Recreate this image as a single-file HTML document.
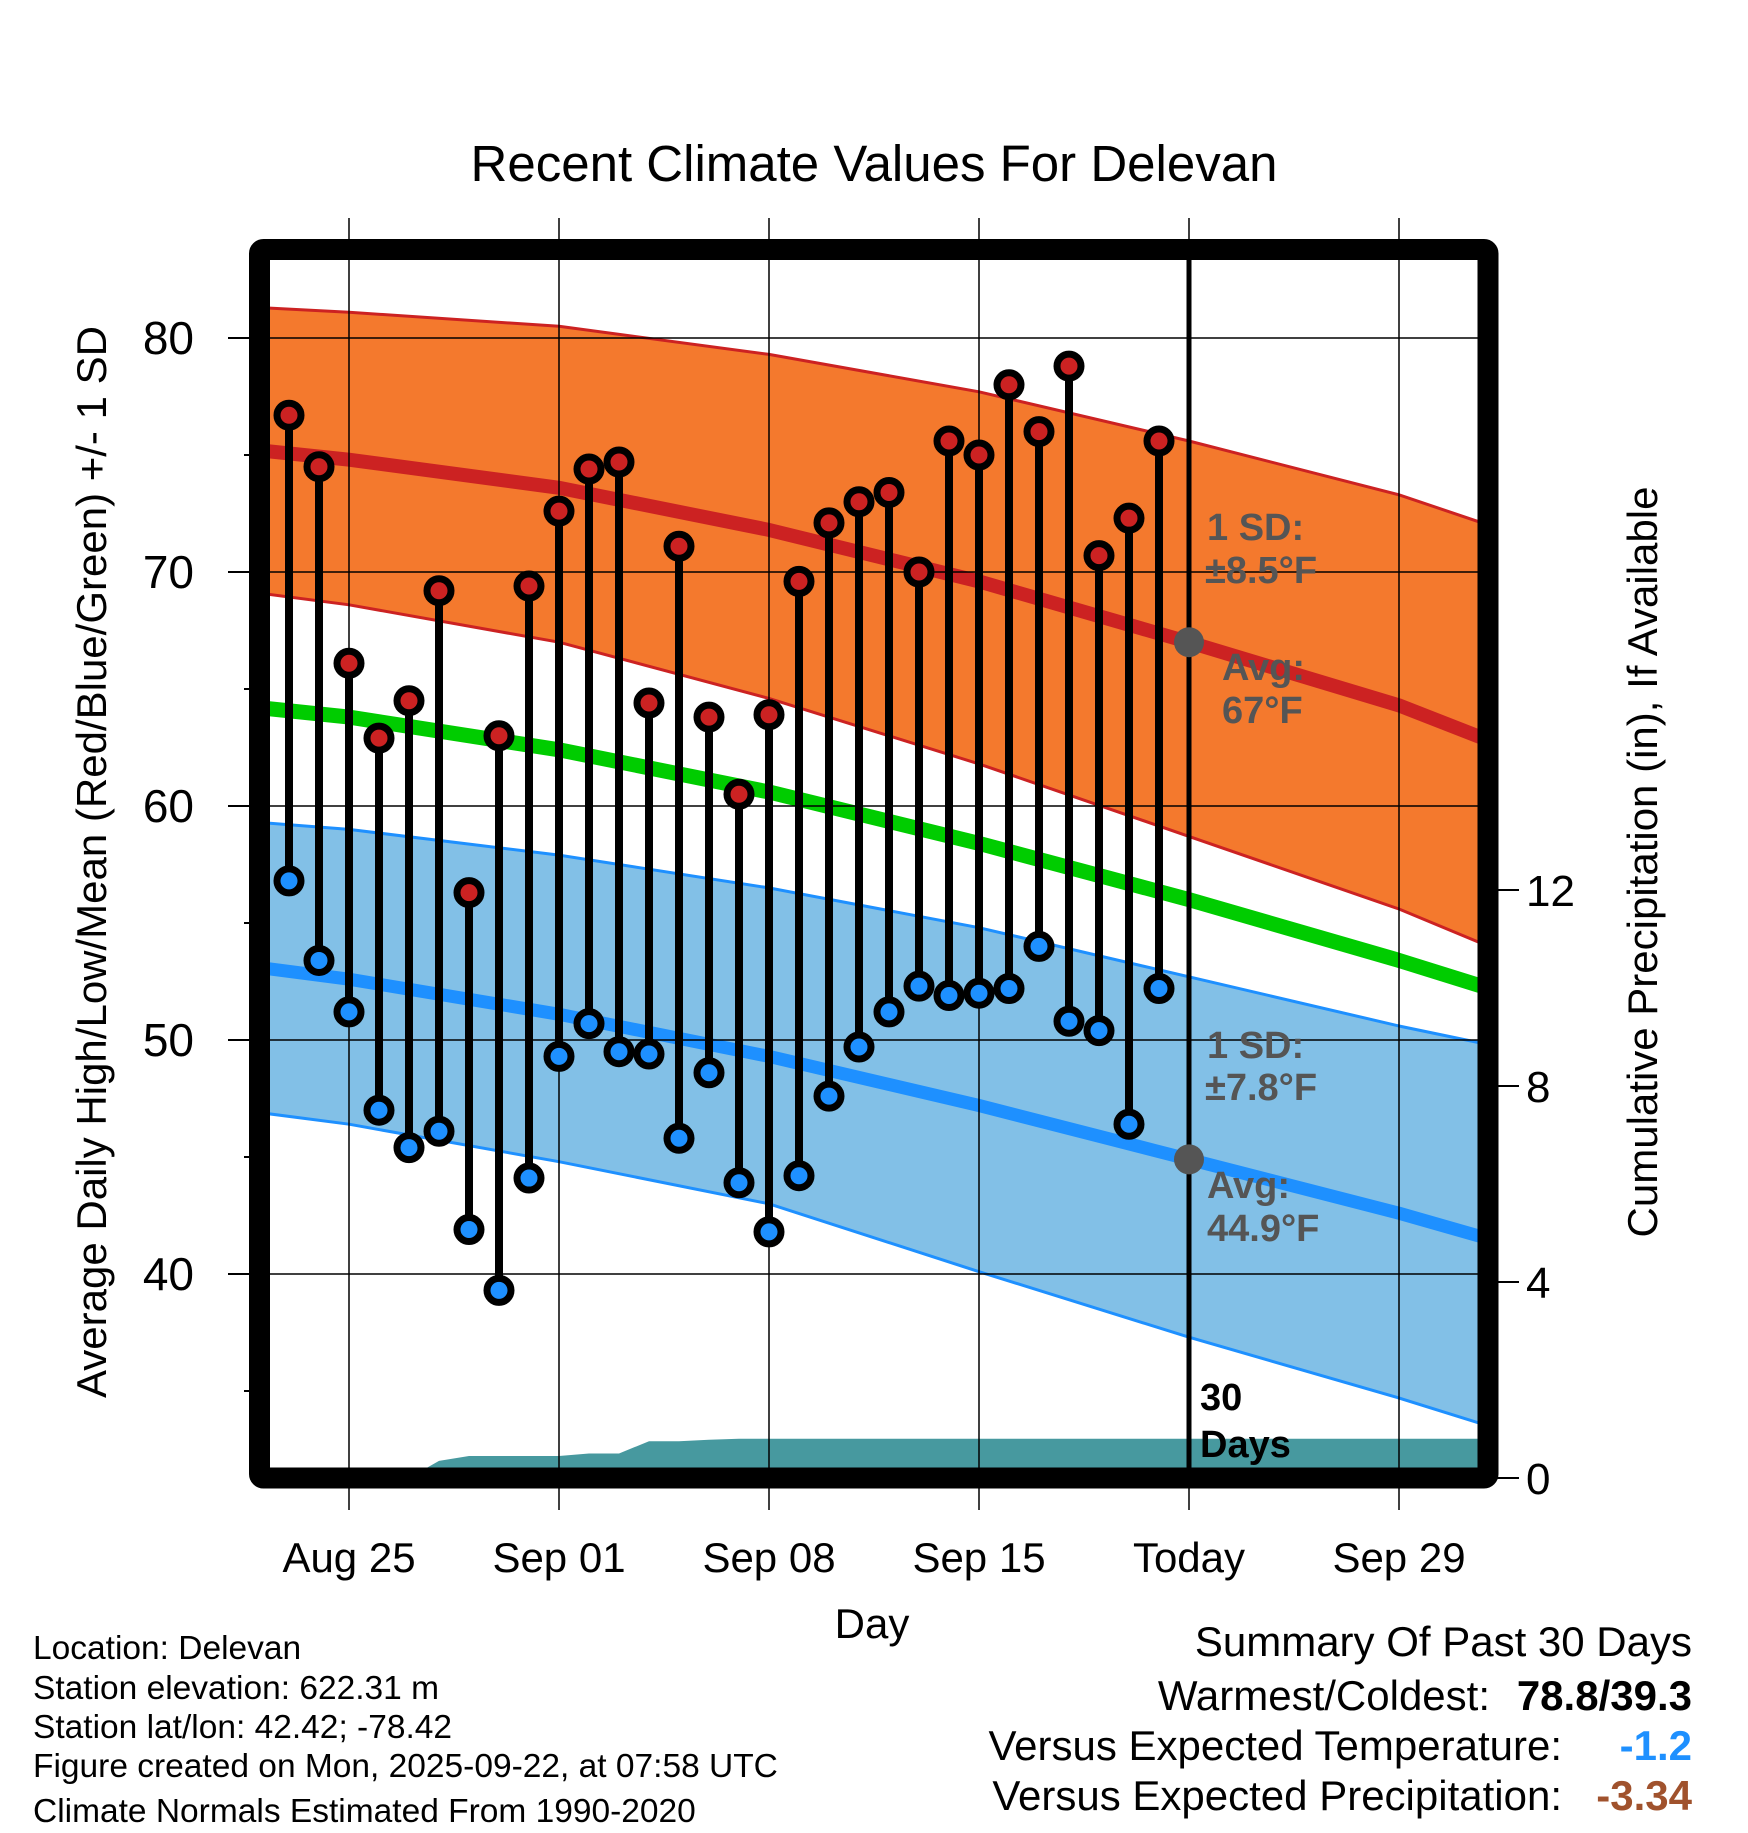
<!DOCTYPE html>
<html><head><meta charset="utf-8"><style>
html,body{margin:0;padding:0;background:#fff}
svg text{font-family:"Liberation Sans",Arial,sans-serif}
</style></head><body>
<svg id="chart" width="1748" height="1828" viewBox="0 0 1748 1828" xmlns="http://www.w3.org/2000/svg">
<defs><clipPath id="plotclip"><rect x="270" y="260" width="1208" height="1208"/></clipPath></defs>
<g id="plot" clip-path="url(#plotclip)"></g>
<g id="over"></g>
</svg>
<script>
// ---- data ----
const dayLabels = ["Aug 25","Sep 01","Sep 08","Sep 15","Today","Sep 29"];
const dayTickOffsets = [2,9,16,23,30,37]; // days since Aug 23
const highs = [76.7,74.5,66.1,62.9,64.5,69.2,56.3,63.0,69.4,72.6,74.4,74.7,64.4,71.1,63.8,60.5,63.9,69.6,72.1,73.0,73.4,70.0,75.6,75.0,78.0,76.0,78.8,70.7,72.3,75.6];
const lows = [56.8,53.4,51.2,47.0,45.4,46.1,41.9,39.3,44.1,49.3,50.7,49.5,49.4,45.8,48.6,43.9,41.8,44.2,47.6,49.7,51.2,52.3,51.9,52.0,52.2,54.0,50.8,50.4,46.4,52.2];
const normDays = [-1,2,9,16,23,30,37,40];
const normHigh = [75.2,74.8,73.6,71.8,69.6,67.0,64.3,62.8];
const normHighUp = [81.3,81.1,80.5,79.3,77.7,75.6,73.3,72.0];
const normHighLo = [69.1,68.6,67.0,64.6,61.8,58.7,55.6,54.0];
const normLow = [53.1,52.6,51.1,49.3,47.2,44.9,42.6,41.5];
const normLowUp = [59.3,59.0,57.9,56.5,54.8,52.7,50.6,49.8];
const normLowLo = [46.9,46.4,44.8,43.0,40.1,37.3,34.7,33.5];
const normMean = [64.2,63.8,62.4,60.6,58.4,56.0,53.4,52.2];
const precip = [0,0,0,0,0,0.35,0.45,0.45,0.45,0.45,0.5,0.5,0.75,0.75,0.78,0.8,0.8,0.8,0.8,0.8,0.8,0.8,0.8,0.8,0.8,0.8,0.8,0.8,0.8,0.8];
const yTicks = [40,50,60,70,80];
const pTicks = [0,4,8,12];

// ---- axes ----
const X = d => 289 + d*30;
const Y = t => 338 + (80 - t)*23.4;
const P = p => 1478 - p*49;
const NS = "http://www.w3.org/2000/svg";
const plot = document.getElementById('plot');
const over = document.getElementById('over');
function mk(parent, tag, attrs){const e=document.createElementNS(NS,tag);for(const k in attrs)e.setAttribute(k,attrs[k]);parent.appendChild(e);return e;}
function linePts(days, vals){return days.map((d,i)=>X(d).toFixed(1)+','+Y(vals[i]).toFixed(1));}
function band(up, lo){return linePts(normDays,up).concat(linePts(normDays,lo).reverse()).join(' ');}

let e;
e = mk(plot,'polygon',{points:band(normHighUp,normHighLo),fill:'#f4792d'});


e = mk(plot,'polygon',{points:band(normLowUp,normLowLo),fill:'#82c0e7'});


[[normHighUp,'#cc2222',3,'high-upper-sd'],[normHighLo,'#cc2222',3,'high-lower-sd'],[normLowUp,'#1e90ff',3,'low-upper-sd'],[normLowLo,'#1e90ff',3,'low-lower-sd'],[normHigh,'#cc2222',14,'normal-high-line'],[normLow,'#1e90ff',13,'normal-low-line'],[normMean,'#00cc00',15,'normal-mean-line']].forEach(s=>{
  const l = mk(plot,'polyline',{points:linePts(normDays,s[0]).join(' '),fill:'none',stroke:s[1],'stroke-width':s[2]});
  
  
});
// precip area
let pp = [X(-1)+','+P(precip[0])];
precip.forEach((v,i)=>pp.push(X(i)+','+P(v)));
pp.push(X(40)+','+P(precip[precip.length-1]), X(40)+','+P(0), X(-1)+','+P(0));
e = mk(plot,'polygon',{points:pp.join(' '),fill:'#47999f'});


// grid
yTicks.forEach(t=>{const g=mk(plot,'line',{x1:260,x2:1490,y1:Y(t),y2:Y(t),stroke:'#000','stroke-width':1.5});
  
  });
dayTickOffsets.forEach(d=>{const g=mk(plot,'line',{x1:X(d),x2:X(d),y1:250,y2:1480,stroke:'#000','stroke-width':1.5});
  
  });
// today line
e = mk(plot,'line',{x1:X(30),x2:X(30),y1:250,y2:1480,stroke:'#000','stroke-width':5});


// stems and points
highs.forEach((h,i)=>{
  const s = mk(plot,'line',{x1:X(i),x2:X(i),y1:Y(h),y2:Y(lows[i]),stroke:'#000','stroke-width':8});
  
  
});
highs.forEach((h,i)=>{
  const c = mk(plot,'circle',{cx:X(i),cy:Y(h),r:12,fill:'#cc2222',stroke:'#000','stroke-width':7});
  
  
  const c2 = mk(plot,'circle',{cx:X(i),cy:Y(lows[i]),r:12,fill:'#1e90ff',stroke:'#000','stroke-width':7});
  
  
});
// today avg dots
e = mk(plot,'circle',{cx:X(30),cy:Y(normHigh[5]),r:15,fill:'#555'});


e = mk(plot,'circle',{cx:X(30),cy:Y(normLow[5]),r:15,fill:'#555'});



// outside ticks
yTicks.forEach(t=>{const g=mk(over,'line',{x1:228,x2:262,y1:Y(t),y2:Y(t),stroke:'#000','stroke-width':2});
  
  
  const tx=mk(over,'text',{x:194,y:Y(t)+16,'text-anchor':'end','font-size':46});
  tx.textContent=t;
  
  });
[35,45,55,65,75].forEach(t=>{const g=mk(over,'line',{x1:244,x2:262,y1:Y(t),y2:Y(t),stroke:'#000','stroke-width':2});
  
  });
dayTickOffsets.forEach((d,i)=>{
  const a=mk(over,'line',{x1:X(d),x2:X(d),y1:218,y2:252,stroke:'#000','stroke-width':1.5});
  
  
  const b=mk(over,'line',{x1:X(d),x2:X(d),y1:1485,y2:1510,stroke:'#000','stroke-width':1.5});
  
  
  const tx=mk(over,'text',{x:X(d),y:1572,'text-anchor':'middle','font-size':42});
  tx.textContent=dayLabels[i];
  
  
});
pTicks.forEach(p=>{const g=mk(over,'line',{x1:1488,x2:1519,y1:P(p),y2:P(p),stroke:'#000','stroke-width':2});
  
  
  const tx=mk(over,'text',{x:1526,y:P(p)+16,'font-size':44});
  tx.textContent=p;
  
  });
// frame
e = mk(over,'rect',{x:259.5,y:249.5,width:1228.5,height:1228.5,fill:'none',stroke:'#000','stroke-width':21,rx:4});


</script>
<svg style="position:absolute;left:0;top:0" width="1748" height="1828" xmlns="http://www.w3.org/2000/svg">
<text x="874" y="181" text-anchor="middle" font-size="51" font-family="Liberation Sans, sans-serif">Recent Climate Values For Delevan</text>
<text transform="translate(106,862) rotate(-90)" text-anchor="middle" font-size="42" font-family="Liberation Sans, sans-serif">Average Daily High/Low/Mean (Red/Blue/Green) +/- 1 SD</text>
<text transform="translate(1657,862) rotate(-90)" text-anchor="middle" font-size="42" font-family="Liberation Sans, sans-serif">Cumulative Precipitation (in), If Available</text>
<text x="872" y="1638" text-anchor="middle" font-size="42" font-family="Liberation Sans, sans-serif">Day</text>
<g font-family="Liberation Sans, sans-serif" font-weight="bold" font-size="38" fill="#555">
<text x="1207" y="540">1 SD:</text>
<text x="1205" y="583">±8.5°F</text>
<text x="1222" y="680">Avg:</text>
<text x="1222" y="723">67°F</text>
<text x="1207" y="1058">1 SD:</text>
<text x="1205" y="1100">±7.8°F</text>
<text x="1207" y="1198">Avg:</text>
<text x="1207" y="1241">44.9°F</text>
</g>
<g font-family="Liberation Sans, sans-serif" font-weight="bold" font-size="38" fill="#000">
<text x="1200" y="1410">30</text>
<text x="1200" y="1457">Days</text>
</g>
<g font-family="Liberation Sans, sans-serif" font-size="33.5" fill="#000">
<text x="33" y="1659">Location: Delevan</text>
<text x="33" y="1699">Station elevation: 622.31 m</text>
<text x="33" y="1738">Station lat/lon: 42.42; -78.42</text>
<text x="33" y="1777">Figure created on Mon, 2025-09-22, at 07:58 UTC</text>
<text x="33" y="1822">Climate Normals Estimated From 1990-2020</text>
</g>
<g font-family="Liberation Sans, sans-serif" font-size="42" fill="#000">
<text x="1692" y="1656" text-anchor="end">Summary Of Past 30 Days</text>
<text x="1490" y="1710" text-anchor="end">Warmest/Coldest:</text>
<text x="1692" y="1710" text-anchor="end" font-weight="bold">78.8/39.3</text>
<text x="1562" y="1760" text-anchor="end">Versus Expected Temperature:</text>
<text x="1692" y="1760" text-anchor="end" font-weight="bold" fill="#1e90ff">-1.2</text>
<text x="1562" y="1810" text-anchor="end">Versus Expected Precipitation:</text>
<text x="1692" y="1810" text-anchor="end" font-weight="bold" fill="#a0522d">-3.34</text>
</g>
</svg>
</body></html>
